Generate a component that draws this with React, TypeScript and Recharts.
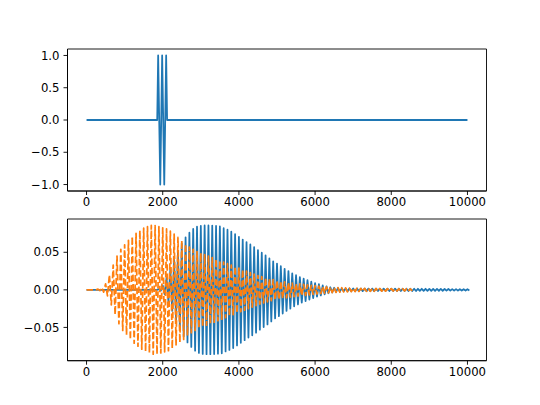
import { Line, LineChart, ReferenceArea, XAxis, YAxis } from "recharts";

// x axis (samples) and tick values for both panels
const xTicks = [0, 2000, 4000, 6000, 8000, 10000];
const topTicks = [-1, -0.5, 0, 0.5, 1];
const bottomTicks = [-0.05, 0, 0.05];

// top panel: short burst around sample 2000
const pulseTimes = [0, 1855, 1880, 1935, 1985, 2040, 2090, 2115, 10000];
const pulseValues = [0, 0, 1, -1, 1, -1, 1, 0, 0];

// bottom panel: one envelope value per 100-sample cycle (peak, then trough)
const cycleLength = 100;
const blueEnvelope = [
  0, 0, 0, 0, 0, 0, 0, 0, 0, 0,
  0, 0, 0, 0, 0, 0, 0, 0, 0, 0.001,
  0.006, 0.016, 0.028, 0.04, 0.051, 0.062, 0.07, 0.076, 0.081, 0.084,
  0.0853, 0.0857, 0.0857, 0.0855, 0.085, 0.0844, 0.082, 0.08, 0.0775, 0.074,
  0.0705, 0.067, 0.0635, 0.0605, 0.057, 0.053, 0.0495, 0.046, 0.042, 0.038,
  0.035, 0.0315, 0.028, 0.025, 0.022, 0.0195, 0.017, 0.015, 0.013, 0.011,
  0.009, 0.0075, 0.006, 0.0045, 0.0035, 0.0028, 0.0023, 0.002, 0.0019, 0.0018,
  0.0018, 0.0017, 0.0017, 0.0017, 0.0017, 0.0017, 0.0016, 0.0016, 0.0016, 0.0016,
  0.0016, 0.0016, 0.0016, 0.0015, 0.0015, 0.0015, 0.0015, 0.0014, 0.0014, 0.0014,
  0.0013, 0.0013, 0.0012, 0.0012, 0.0011, 0.0011, 0.001, 0.001, 0.0009, 0.0009,
  0.0008,
];
const orangeEnvelope = [
  0, 0, 0, 0.001, 0.003, 0.008, 0.02, 0.033, 0.045, 0.054,
  0.06, 0.066, 0.071, 0.075, 0.079, 0.082, 0.084, 0.0857, 0.0855, 0.084,
  0.0825, 0.081, 0.078, 0.074, 0.07, 0.066, 0.061, 0.057, 0.054, 0.051,
  0.049, 0.047, 0.045, 0.043, 0.041, 0.039, 0.037, 0.035, 0.033, 0.031,
  0.029, 0.027, 0.025, 0.023, 0.021, 0.019, 0.0175, 0.016, 0.0145, 0.0135,
  0.0125, 0.0115, 0.0106, 0.0098, 0.009, 0.0084, 0.0078, 0.0072, 0.0066, 0.006,
  0.0055, 0.005, 0.0045, 0.004, 0.0036, 0.0033, 0.003, 0.0028, 0.0026, 0.0024,
  0.0022, 0.0021, 0.002, 0.002, 0.0019, 0.0018, 0.0018, 0.0017, 0.0017, 0.0016,
  0.0016, 0.0015, 0.0015, 0.0014, 0.0014, 0.0013,
];

const topData = pulseTimes.map((x, i) => ({ x, y: pulseValues[i] }));

function toWave(envelope: number[]) {
  return envelope.flatMap((amp, i) => [
    { x: i * cycleLength, y: amp },
    { x: i * cycleLength + cycleLength / 2, y: -amp },
  ]);
}

const blueData = toWave(blueEnvelope);
const orangeData = toWave(orangeEnvelope);

const BLUE = "#1f77b4";
const ORANGE = "#ff7f0e";
const X_DOMAIN = [-500, 10500];
const tickStyle = { fill: "#000", fontSize: 11.7, fontFamily: "DejaVu Sans" };
const axisStroke = { stroke: "#000", strokeWidth: 0.9 };

const fmt = (digits: number) => (v: number) =>
  (v < 0 ? "\u2212" : "") + Math.abs(v).toFixed(digits);

function Frame({ yDomain, yTicks, digits }: { yDomain: number[]; yTicks: number[]; digits: number }) {
  return [
    <XAxis
      key="xb"
      type="number"
      dataKey="x"
      domain={X_DOMAIN}
      ticks={xTicks}
      height={30}
      tick={tickStyle}
      tickSize={4}
      tickMargin={3}
      axisLine={axisStroke}
      tickLine={axisStroke}
    />,
    <YAxis
      key="yl"
      type="number"
      domain={yDomain}
      ticks={yTicks}
      width={60}
      tick={tickStyle}
      tickSize={4}
      tickMargin={4}
      tickFormatter={fmt(digits)}
      axisLine={axisStroke}
      tickLine={axisStroke}
    />,
    <ReferenceArea
      key="box"
      x1={X_DOMAIN[0]}
      x2={X_DOMAIN[1]}
      y1={yDomain[0]}
      y2={yDomain[1]}
      fill="none"
      fillOpacity={0}
      stroke="#000"
      strokeWidth={0.9}
      ifOverflow="visible"
    />,
  ];
}

export default function App() {
  return (
    <div style={{ position: "absolute", left: 0, top: 0, width: 540, height: 405, background: "#fff" }}>
      <div style={{ position: "absolute", left: 0, top: 0 }}>
        <LineChart width={540} height={405} margin={{ top: 49, right: 53.5, left: 7.5, bottom: 184 }}>
          {Frame({ yDomain: [-1.1, 1.1], yTicks: topTicks, digits: 1 })}
          <Line
            data={topData}
            dataKey="y"
            type="linear"
            stroke={BLUE}
            strokeWidth={1.76}
            strokeLinejoin="round"
            dot={false}
            isAnimationActive={false}
          />
        </LineChart>
      </div>
      <div style={{ position: "absolute", left: 0, top: 0 }}>
        <LineChart width={540} height={405} margin={{ top: 219, right: 53.5, left: 7.5, bottom: 14.3 }}>
          {Frame({ yDomain: [-0.0943, 0.0943], yTicks: bottomTicks, digits: 2 })}
          <Line
            data={blueData}
            dataKey="y"
            type="linear"
            stroke={BLUE}
            strokeWidth={1.76}
            strokeLinejoin="round"
            dot={false}
            isAnimationActive={false}
          />
          <Line
            data={orangeData}
            dataKey="y"
            type="linear"
            stroke={ORANGE}
            strokeWidth={1.76}
            strokeDasharray="6.5 2.8"
            strokeLinejoin="round"
            dot={false}
            isAnimationActive={false}
          />
        </LineChart>
      </div>
    </div>
  );
}
